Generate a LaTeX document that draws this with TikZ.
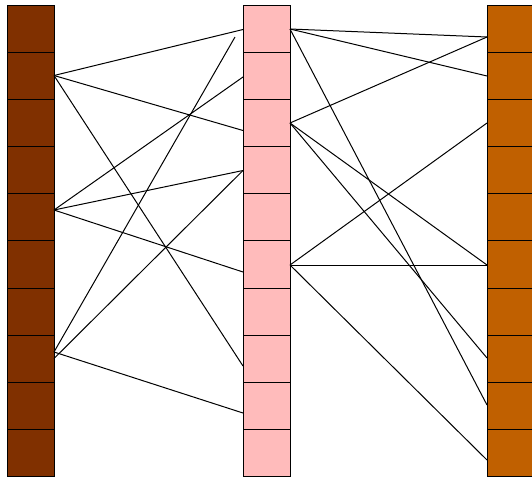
\documentclass[tikz,border=0pt]{standalone}
\definecolor{lbrown}{RGB}{128,48,0}
\definecolor{mpink}{RGB}{255,187,187}
\definecolor{rorange}{RGB}{192,96,0}
\begin{document}
\begin{tikzpicture}[x=1pt,y=-1pt,
  cell/.style={draw=black,line width=0.8pt,minimum width=47pt,minimum height=47.15pt,inner sep=0pt,outer sep=0pt,anchor=north west},
  link/.style={line width=1pt,black}]
\useasboundingbox (0,0) rectangle (532,477);
\clip (0,0) rectangle (532,477);
\foreach \i in {0,...,9} {
  \node[cell,fill=lbrown] (L\i) at (7,{5+47.15*\i}) {};
  \node[cell,fill=mpink] (M\i) at (243,{5+47.15*\i}) {};
  \node[cell,fill=rorange] (R\i) at (487,{5+47.15*\i}) {};
}
% endpoints on left column
\coordinate (a1) at (54,75.5);
\coordinate (a4) at (54,210);
\coordinate (a7) at (54,352);
\coordinate (a7b) at (54,358.5);
% endpoints on middle column, left side
\coordinate (m0) at (243,29.5);
\coordinate (m1) at (243,77);
\coordinate (m2) at (243,130.5);
\coordinate (m3) at (243,170.5);
\coordinate (m5) at (243,272);
\coordinate (m7) at (243,366);
\coordinate (m8) at (243,413);
\coordinate (f) at (235,37);
% endpoints on middle column, right side
\coordinate (n0) at (290,29);
\coordinate (n2) at (290,123);
\coordinate (n5) at (290,265);
% endpoints on right column
\coordinate (r0) at (487,37);
\coordinate (r1) at (487,76);
\coordinate (r2) at (487,123);
\coordinate (r5) at (487,265);
\coordinate (r7) at (487,358);
\coordinate (r8) at (487,405);
\coordinate (r9) at (487,460);
% links left-middle
\draw[link] (a1) -- (m0);
\draw[link] (a1) -- (m2);
\draw[link] (a1) -- (m7);
\draw[link] (a4) -- (m1);
\draw[link] (a4) -- (m3);
\draw[link] (a4) -- (m5);
\draw[link] (a7) -- (f);
\draw[link] (a7) -- (m8);
\draw[link] (a7b) -- (m3);
% links middle-right
\draw[link] (n0) -- (r0);
\draw[link] (n0) -- (r1);
\draw[link] (n0) -- (r8);
\draw[link] (n2) -- (r0);
\draw[link] (n2) -- (r5);
\draw[link] (n2) -- (r7);
\draw[link] (n5) -- (r2);
\draw[link] (n5) -- (r5);
\draw[link] (n5) -- (r9);
\end{tikzpicture}
\end{document}
